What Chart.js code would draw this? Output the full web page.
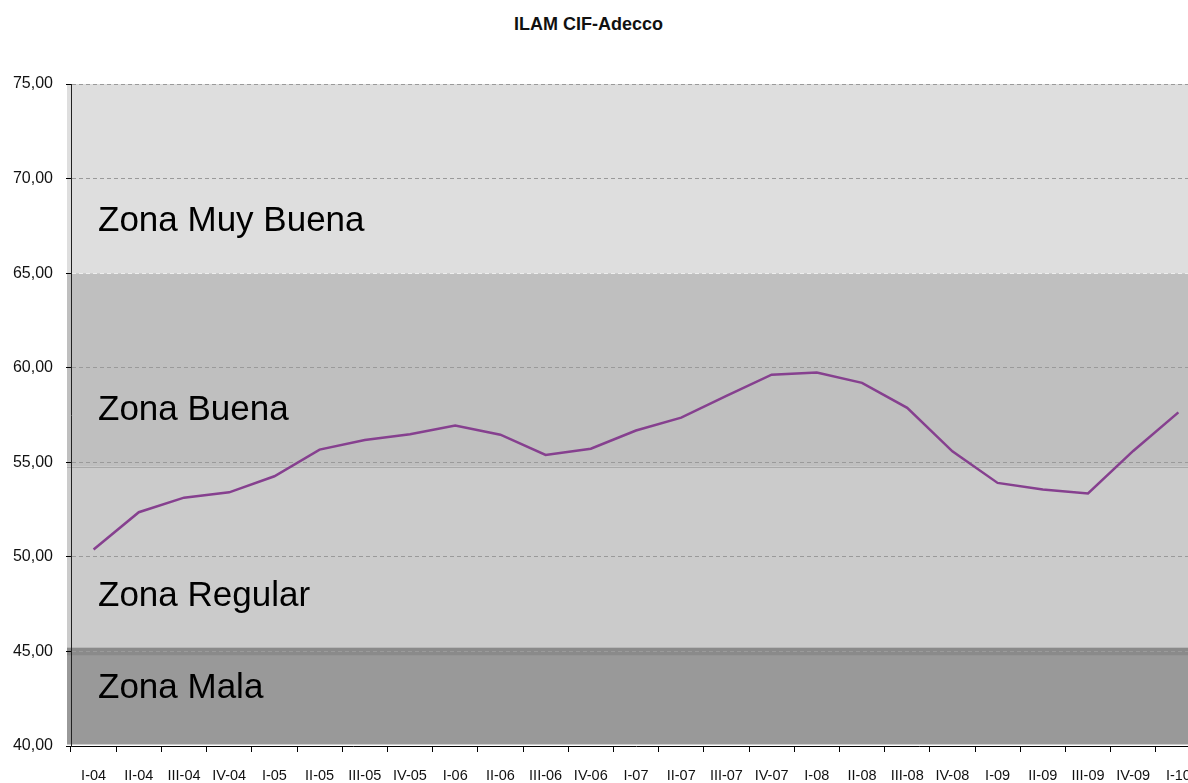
<!DOCTYPE html>
<html>
<head>
<meta charset="utf-8">
<script src="https://cdn.jsdelivr.net/npm/chart.js@4/dist/chart.umd.min.js"></script>
<style>
  body { margin: 0; background: #fff; overflow: hidden; font-family: "Liberation Sans", Arial, sans-serif; }
  .title { position: absolute; top: 14px; left: 0; width: 1177px; text-align: center; font-weight: bold; font-size: 18px; color: #111; }
  .vis-container { position: absolute; top: 0; left: 0; width: 1210px; height: 783px; }
</style>
</head>
<body>
<div class="title">ILAM CIF-Adecco</div>
<div class="vis-container"><canvas id="vis"></canvas></div>
<script>

// quarters I-04 .. I-10
const quarters = ['I-04','II-04','III-04','IV-04','I-05','II-05','III-05','IV-05','I-06','II-06','III-06','IV-06',
                  'I-07','II-07','III-07','IV-07','I-08','II-08','III-08','IV-08','I-09','II-09','III-09','IV-09','I-10'];

const ilam = [50.39, 52.36, 53.13, 53.41, 54.26, 55.67, 56.18, 56.48, 56.94, 56.46, 55.39, 55.72,
              56.68, 57.36, 58.51, 59.63, 59.75, 59.20, 57.88, 55.58, 53.91, 53.56, 53.35, 55.60, 57.64];

// zones: bottom / top edge of each band, its colour, label and where its baseline sits
const zoneFrom   = [40, 45.2, 54.76, 65];
const zoneTo     = [45.2, 54.76, 65, 75];
const zoneColor  = ['#999999', '#cbcbcb', '#bfbfbf', '#dedede'];
const zoneName   = ['Zona Mala', 'Zona Regular', 'Zona Buena', 'Zona Muy Buena'];
const zoneLabelY = [42.55, 47.4, 57.23, 67.23];

const yTicks = [40, 45, 50, 55, 60, 65, 70, 75];

const zones = {
    id: 'zones',
    beforeDraw(chart) {
        const ctx = chart.ctx;
        const area = chart.chartArea;
        const y = chart.scales.y;
        ctx.save();
        zoneFrom.forEach((v, i) => {
            let top = y.getPixelForValue(zoneTo[i]);
            let bottom = y.getPixelForValue(v);
            if (i == 0) bottom -= 1.5;
            ctx.fillStyle = zoneColor[i];
            ctx.fillRect(area.left - 4, top, area.right - area.left + 4, bottom - top);
        });
        // darker seam between Mala and Regular
        ctx.fillStyle = '#8a8a8a';
        const s0 = y.getPixelForValue(45.2), s1 = y.getPixelForValue(44.8);
        ctx.fillRect(area.left - 4, s0, area.right - area.left + 4, s1 - s0);
        // thin edge between Regular and Buena
        ctx.fillStyle = '#a9a9a9';
        ctx.fillRect(area.left - 4, Math.round(y.getPixelForValue(54.76)), area.right - area.left + 4, 1);
        ctx.restore();
    },
    beforeDatasetsDraw(chart) {
        const ctx = chart.ctx;
        const y = chart.scales.y;
        ctx.save();
        ctx.font = '35px "Liberation Sans", Arial, sans-serif';
        ctx.fillStyle = '#000';
        ctx.textBaseline = 'alphabetic';
        zoneName.forEach((n, i) => {
            ctx.fillText(n, chart.chartArea.left + 27, y.getPixelForValue(zoneLabelY[i]));
        });
        ctx.restore();
    }
};

new Chart(document.getElementById('vis'), {
    type: 'line',
    data: {
        labels: quarters,
        datasets: [{
            data: ilam,
            borderColor: '#86408f',
            borderWidth: 2.5,
            pointRadius: 0,
            tension: 0,
            fill: false
        }]
    },
    options: {
        responsive: true,
        maintainAspectRatio: false,
        animation: false,
        layout: { padding: { top: 84, right: 9, left: 0, bottom: 0 } },
        plugins: { legend: { display: false }, tooltip: { enabled: false }, title: { display: false } },
        scales: {
            x: {
                offset: true,
                grid: { display: true, offset: true, drawOnChartArea: false, drawTicks: true, tickLength: 6, tickColor: '#000' },
                border: { display: true, color: '#000', width: 1 },
                ticks: {
                    autoSkip: false, maxRotation: 0, minRotation: 0, padding: 15,
                    color: '#111', font: { family: '"Liberation Sans", Arial, sans-serif', size: 14.5 }
                },
                afterFit(scale) { scale.height = 37; }
            },
            y: {
                min: 40, max: 75,
                afterBuildTicks(scale) { scale.ticks = yTicks.map(v => ({ value: v })); },
                grid: {
                    color: c => (c.tick && c.tick.value == 65) ? '#eeeeee' : (c.tick && c.tick.value == 40 ? 'rgba(0,0,0,0)' : '#9a9a9a'),
                    lineWidth: 1, drawTicks: true, tickLength: 5, tickColor: '#000', tickBorderDash: []
                },
                border: { display: true, color: '#222', width: 1, dash: [4, 3] },
                ticks: {
                    padding: 13,
                    color: '#111',
                    font: { family: '"Liberation Sans", Arial, sans-serif', size: 16 },
                    callback: v => v.toFixed(2).replace('.', ',')
                },
                afterFit(scale) { scale.width = 71; }
            }
        }
    },
    plugins: [zones]
});

</script>
</body>
</html>
